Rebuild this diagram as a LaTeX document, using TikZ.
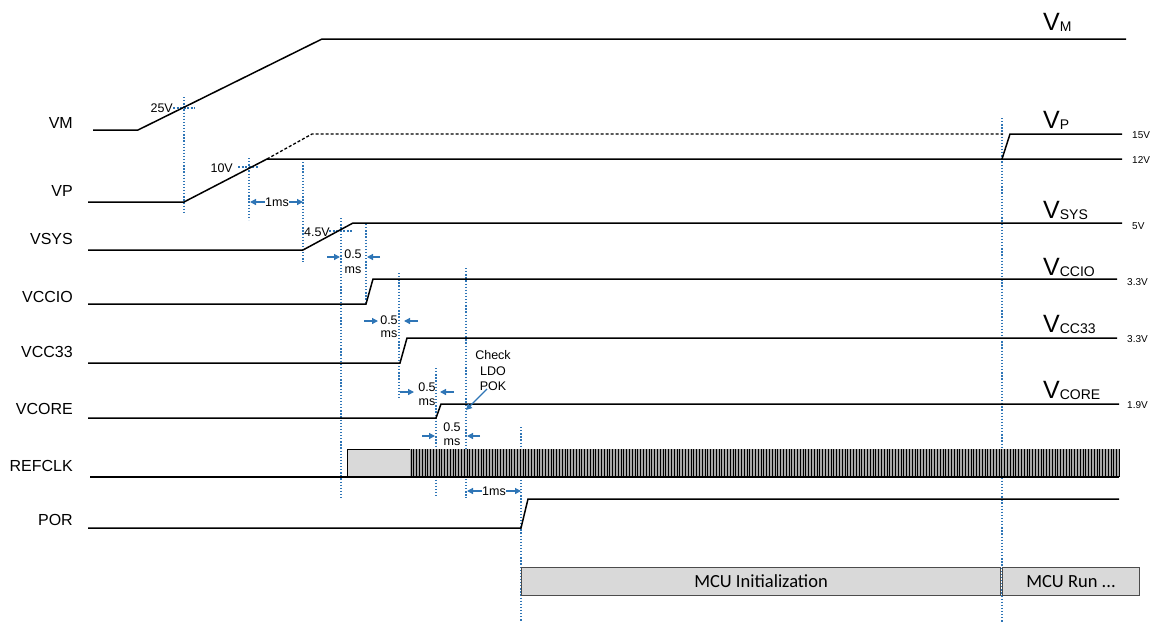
\documentclass[tikz,border=0pt]{standalone}
\usepackage{fontspec}
\setmainfont{Liberation Sans}
\newfontfamily\carlito{Carlito}
\usetikzlibrary{arrows.meta}
\definecolor{guideblue}{HTML}{2E75B6}
\definecolor{boxgray}{HTML}{D9D9D9}
\tikzset{
  wave/.style={line width=1.5pt, black, line join=miter},
  wavedash/.style={line width=1.3pt, black, dash pattern=on 3pt off 2pt},
  guide/.style={line width=1.2pt, guideblue, dash pattern=on 1.3pt off 1.8pt},
  tickdash/.style={line width=1.1pt, guideblue, dash pattern=on 2pt off 1.5pt},
  dimarrow/.style={line width=1.3pt, guideblue, -{Triangle[length=6pt,width=6pt]}},
  lbl/.style={font=\fontsize{16}{19}\selectfont, inner sep=0pt, anchor=base east},
  sml/.style={font=\fontsize{12.5}{15}\selectfont, inner sep=0pt},
  volt/.style={font=\fontsize{10}{12}\selectfont, inner sep=0pt, anchor=west},
  bigv/.style={inner sep=0pt, anchor=base west},
  mcubox/.style={draw=black!70, line width=1pt, fill=boxgray, anchor=north west,
    inner sep=0pt, font=\carlito\fontsize{18.5}{22}\selectfont},
}
\newcommand{\bigV}[1]{{\fontsize{25}{30}\selectfont V}{\fontsize{14}{16}\selectfont\raisebox{-1pt}{#1}}}
\begin{document}
\begin{tikzpicture}[x=1pt,y=-1pt]
\useasboundingbox (0,0) rectangle (1154,624);

% ---------- guide lines (blue dotted) ----------
\draw[guide] (184,97) -- (184,213);
\draw[guide] (249,158) -- (249,220);
\draw[guide] (303,159) -- (303,262);
\draw[guide] (341,218) -- (341,498);
\draw[guide] (366,224) -- (366,304);
\draw[guide] (399,273) -- (399,398);
\draw[guide] (436,368) -- (436,498);
\draw[guide] (466,268) -- (466,498);
\draw[guide] (521,427) -- (521,622);
\draw[guide] (1002,118) -- (1002,622);

% threshold ticks
\draw[tickdash] (173,108) -- (195,108);
\draw[tickdash] (238,167) -- (259,167);
\draw[tickdash] (329,231) -- (352,231);

% ---------- waveforms ----------
% VM
\coordinate (vm0) at (93,130);
\coordinate (vm1) at (138,130);
\coordinate (vm2) at (322,39);
\coordinate (vm3) at (1126,39);
\draw[wave] (vm0) -- (vm1) -- (vm2) -- (vm3);
% VP
\coordinate (vp0) at (88,202);
\coordinate (vp1) at (184,202);
\coordinate (vp2) at (267,159);
\coordinate (vp3) at (1122,159);
\draw[wave] (vp0) -- (vp1) -- (vp2) -- (vp3);
\coordinate (vpd1) at (312,134);
\coordinate (vpd2) at (1003,134);
\draw[wavedash] (vp2) -- (vpd1) -- (vpd2);
\coordinate (vpr0) at (1002,159);
\coordinate (vpr1) at (1010,134);
\coordinate (vpr2) at (1122,134);
\draw[wave] (vpr0) -- (vpr1) -- (vpr2);
% VSYS
\coordinate (vs0) at (88,250);
\coordinate (vs1) at (303,250);
\coordinate (vs2) at (353,223);
\coordinate (vs3) at (1122,223);
\draw[wave] (vs0) -- (vs1) -- (vs2) -- (vs3);
% VCCIO
\coordinate (vio0) at (88,304);
\coordinate (vio1) at (366,304);
\coordinate (vio2) at (373,279);
\coordinate (vio3) at (1117,279);
\draw[wave] (vio0) -- (vio1) -- (vio2) -- (vio3);
% VCC33
\coordinate (v33a) at (88,363);
\coordinate (v33b) at (400,363);
\coordinate (v33c) at (407,338);
\coordinate (v33d) at (1117,338);
\draw[wave] (v33a) -- (v33b) -- (v33c) -- (v33d);
% VCORE
\coordinate (vc0) at (88,418);
\coordinate (vc1) at (436,418);
\coordinate (vc2) at (441,404);
\coordinate (vc3) at (1119,404);
\draw[wave] (vc0) -- (vc1) -- (vc2) -- (vc3);
% REFCLK
\coordinate (rc0) at (90,477);
\coordinate (rc1) at (347,477);
\draw[wave] (rc0) -- (rc1);
\draw[line width=1pt, black, fill=boxgray] (347,477) -- (347,449) -- (410,449) -- (410,477);
\fill[gray!70] (410,449) rectangle (1119,477);
\foreach \i in {0,...,253} {
  \draw[line width=0.9pt, black] ({411+\i*2.8},449) -- ({411+\i*2.8},477);
}
\draw[wave] (347,477) -- (1119,477);
% POR
\coordinate (po0) at (88,528);
\coordinate (po1) at (521,528);
\coordinate (po2) at (528,499);
\coordinate (po3) at (1119,499);
\draw[wave] (po0) -- (po1) -- (po2) -- (po3);

% ---------- left labels ----------
\node[lbl] (lvm) at (73,128) {VM};
\node[lbl] (lvp) at (73,196) {VP};
\node[lbl] (lvs) at (73,244) {VSYS};
\node[lbl] (lvio) at (73,302) {VCCIO};
\node[lbl] (lv33) at (73,357) {VCC33};
\node[lbl] (lvc) at (73,414) {VCORE};
\node[lbl] (lrc) at (73,471) {REFCLK};
\node[lbl] (lpor) at (73,525) {POR};

% ---------- right labels ----------
\node[bigv] (rvm) at (1043,30) {\bigV{M}};
\node[bigv] (rvp) at (1043,128) {\bigV{P}};
\node[bigv] (rvs) at (1043,218) {\bigV{SYS}};
\node[bigv] (rvio) at (1043,275) {\bigV{CCIO}};
\node[bigv] (rv33) at (1043,332) {\bigV{CC33}};
\node[bigv] (rvc) at (1043,398) {\bigV{CORE}};

\node[volt] (v15) at (1132,135) {15V};
\node[volt] (v12) at (1132,160) {12V};
\node[volt] (v5) at (1132,226) {5V};
\node[volt] (v33io) at (1127,282) {3.3V};
\node[volt] (v3333) at (1127,339) {3.3V};
\node[volt] (v19) at (1127,405) {1.9V};

% ---------- threshold labels ----------
\node[sml, anchor=east] (t25) at (173,108) {25V};
\node[sml, anchor=east] (t10) at (233,168) {10V};
\node[sml, anchor=east] (t45) at (330,232) {4.5V};

% ---------- timing dimensions ----------
\node[sml] (d1) at (277,202) {1ms};
\coordinate (d1l) at (250,202);
\coordinate (d1r) at (303,202);
\draw[dimarrow] (d1.west) -- (d1l);
\draw[dimarrow] (d1.east) -- (d1r);

\node[sml] (d2a) at (353,254) {0.5};
\node[sml] (d2b) at (353,270) {ms};
\coordinate (d2l0) at (327,257); \coordinate (d2l1) at (340,257);
\coordinate (d2r0) at (380,257); \coordinate (d2r1) at (367,257);
\draw[dimarrow] (d2l0) -- (d2l1);
\draw[dimarrow] (d2r0) -- (d2r1);

\node[sml] (d3a) at (389,320) {0.5};
\node[sml] (d3b) at (389,334) {ms};
\coordinate (d3l0) at (364,321); \coordinate (d3l1) at (378,321);
\coordinate (d3r0) at (418,321); \coordinate (d3r1) at (404,321);
\draw[dimarrow] (d3l0) -- (d3l1);
\draw[dimarrow] (d3r0) -- (d3r1);

\node[sml] (d4a) at (427,387) {0.5};
\node[sml] (d4b) at (427,402) {ms};
\coordinate (d4l0) at (400,392); \coordinate (d4l1) at (414,392);
\coordinate (d4r0) at (454,392); \coordinate (d4r1) at (440,392);
\draw[dimarrow] (d4l0) -- (d4l1);
\draw[dimarrow] (d4r0) -- (d4r1);

\node[sml] (d5a) at (452,427) {0.5};
\node[sml] (d5b) at (452,442) {ms};
\coordinate (d5l0) at (422,436); \coordinate (d5l1) at (435,436);
\coordinate (d5r0) at (480,436); \coordinate (d5r1) at (467,436);
\draw[dimarrow] (d5l0) -- (d5l1);
\draw[dimarrow] (d5r0) -- (d5r1);

\node[sml] (d6) at (494,491) {1ms};
\coordinate (d6l) at (467,491);
\coordinate (d6r) at (521,491);
\draw[dimarrow] (d6.west) -- (d6l);
\draw[dimarrow] (d6.east) -- (d6r);

% Check LDO POK
\node[sml, align=center, font=\fontsize{12.5}{15.5}\selectfont] (pok) at (493,371) {Check\\LDO\\POK};
\coordinate (pokt) at (466,410);
\draw[dimarrow] (487,389) -- (pokt);

% ---------- MCU boxes ----------
\node[mcubox, minimum width=479pt, minimum height=28pt] (init) at (521,567) {MCU Initialization};
\node[mcubox, minimum width=137pt, minimum height=28pt] (run) at (1002,567) {MCU Run ...};

\end{tikzpicture}
\end{document}
